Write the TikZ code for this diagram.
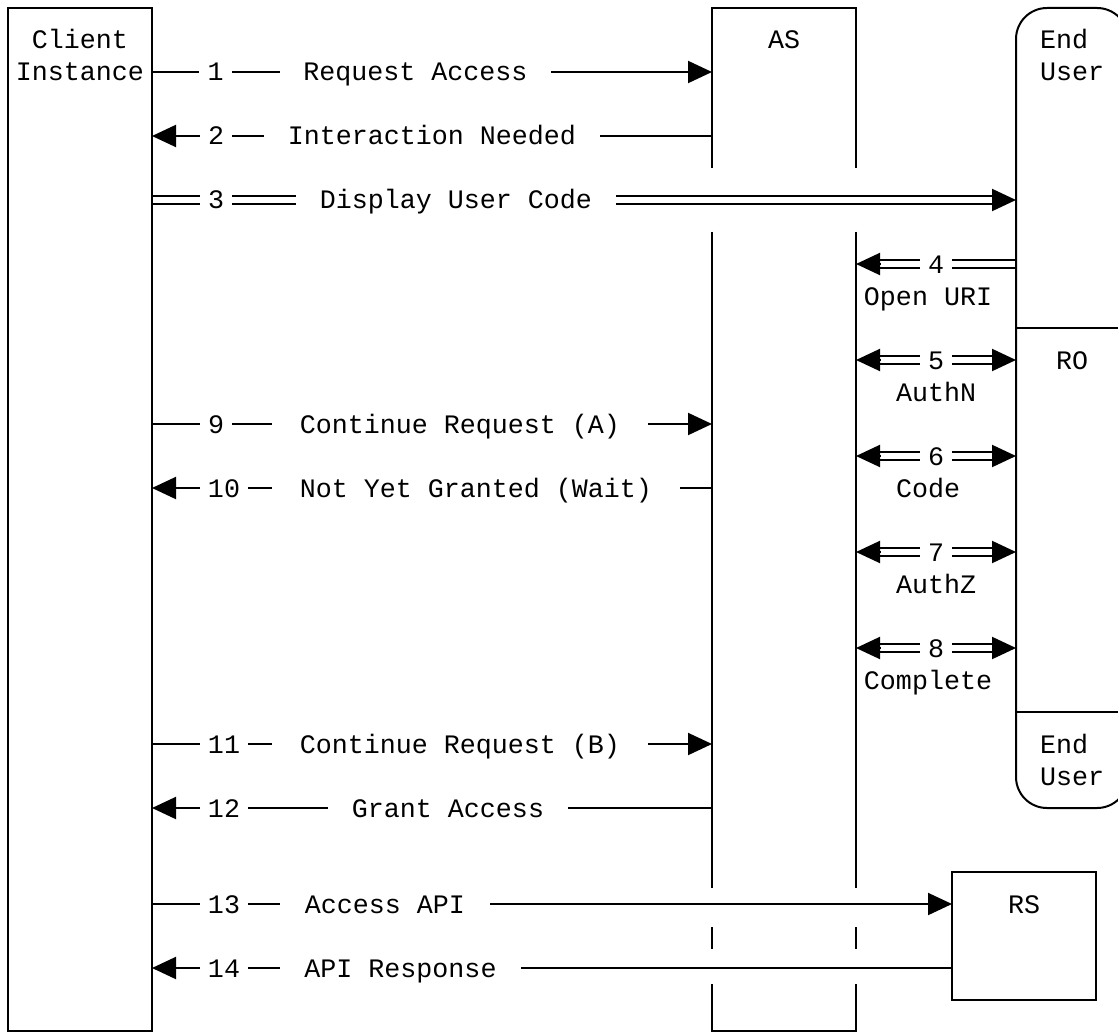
\documentclass[tikz,border=0pt]{standalone}
\usepackage{fontspec}
\newfontfamily\dgmfam{Liberation Mono}
\newcommand\dgmfont{\dgmfam\fontsize{26.67pt}{32pt}\selectfont}
\usetikzlibrary{arrows.meta,calc}
\begin{document}
\begin{tikzpicture}[x=1pt,y=-1pt,line width=2pt,
  txt/.style={inner sep=0pt, outer sep=0pt, text height=18pt, text depth=0pt, font=\dgmfont},
  mask/.style={txt, fill=white, minimum width=#1},
  box/.style={inner sep=0pt, outer sep=0pt, anchor=north west},
  arr/.style={-{Triangle[length=24pt,width=22pt]}},
  dbl/.style={double=white, double distance=6pt, line width=2pt},
  ]
\useasboundingbox (0,0) rectangle (1118,1032);
\clip (0,0) rectangle (1118,1032);

% participants
\node[box, draw, minimum width=144pt, minimum height=1023pt] (client) at (8,8) {};
\node[box, minimum width=144pt, minimum height=1023pt] (as) at (712,8) {};
\node[box, draw, rounded corners=31pt, minimum width=112pt, minimum height=800pt] (user) at (1016,8) {};
\node[box, draw, minimum width=144pt, minimum height=128pt] (rs) at (952,872) {};

% rows
\coordinate (y1) at (0,72);
\coordinate (y2) at (0,136);
\coordinate (y3) at (0,200);
\coordinate (y4) at (0,264);
\coordinate (y5) at (0,360);
\coordinate (y6) at (0,456);
\coordinate (y7) at (0,552);
\coordinate (y8) at (0,648);
\coordinate (y9) at (0,424);
\coordinate (y10) at (0,488);
\coordinate (y11) at (0,744);
\coordinate (y12) at (0,808);
\coordinate (y13) at (0,904);
\coordinate (y14) at (0,968);

% AS outline (broken lifeline)
\draw (712,168) -- (712,8) -- (856,8) -- (856,168);
\draw (712,232) -- (712,888);
\draw (856,232) -- (856,888);
\draw (712,927) -- (712,949);
\draw (856,927) -- (856,949);
\draw (712,984) -- (712,1031) -- (856,1031) -- (856,984);

% End user / RO separators
\draw (user.west |- 0,328) -- (user.east |- 0,328);
\draw (user.west |- 0,712) -- (user.east |- 0,712);

% connectors
\draw[arr] (client.east |- y1) -- (as.west |- y1);
\draw[arr] (as.west |- y2) -- (client.east |- y2);
\draw[dbl, shorten <=1pt, shorten >=24pt] (client.east |- y3) -- (user.west |- y3);
\draw[arr] ($(user.west |- y3)+(-24,0)$) -- (user.west |- y3);
\draw[dbl, shorten <=1pt, shorten >=24pt] (user.west |- y4) -- (as.east |- y4);
\draw[arr] ($(as.east |- y4)+(24,0)$) -- (as.east |- y4);
\foreach \r in {5,6,7,8}{
  \draw[dbl, shorten <=24pt, shorten >=24pt] (as.east |- y\r) -- (user.west |- y\r);
  \draw[arr] ($(as.east |- y\r)+(24,0)$) -- (as.east |- y\r);
  \draw[arr] ($(user.west |- y\r)+(-24,0)$) -- (user.west |- y\r);
}
\draw[arr] (client.east |- y9) -- (as.west |- y9);
\draw[arr] (as.west |- y10) -- (client.east |- y10);
\draw[arr] (client.east |- y11) -- (as.west |- y11);
\draw[arr] (as.west |- y12) -- (client.east |- y12);
\draw[arr] (client.east |- y13) -- (rs.west |- y13);
\draw[arr] (rs.west |- y14) -- (client.east |- y14);

% connector labels
\node[mask=33pt] (n1) at (215.5,72) {1};
\node[mask=271pt] (t1) at (415.5,72) {Request Access};
\node[mask=32pt] (n2) at (216,136) {2};
\node[mask=336pt] (t2) at (432,136) {Interaction Needed};
\node[mask=32pt] (n3) at (216,200) {3};
\node[mask=320pt] (t3) at (456,200) {Display User Code};
\node[mask=32pt] (n4) at (936,264) {4};
\node[txt] (t4) at (928,296) {Open URI};
\node[mask=32pt] (n5) at (936,360) {5};
\node[txt] (t5) at (936,392) {AuthN};
\node[mask=32pt] (n6) at (936,456) {6};
\node[txt] (t6) at (928,488) {Code};
\node[mask=32pt] (n7) at (936,552) {7};
\node[txt] (t7) at (936,584) {AuthZ};
\node[mask=32pt] (n8) at (936,648) {8};
\node[txt] (t8) at (928,680) {Complete};
\node[mask=32pt] (n9) at (216,424) {9};
\node[mask=376pt] (t9) at (460,424) {Continue Request (A)};
\node[mask=48pt] (n10) at (224,488) {10};
\node[mask=408pt] (t10) at (476,488) {Not Yet Granted (Wait)};
\node[mask=48pt] (n11) at (224,744) {11};
\node[mask=376pt] (t11) at (460,744) {Continue Request (B)};
\node[mask=48pt] (n12) at (224,808) {12};
\node[mask=240pt] (t12) at (448,808) {Grant Access};
\node[mask=48pt] (n13) at (224,904) {13};
\node[mask=210pt] (t13) at (385,904) {Access API};
\node[mask=48pt] (n14) at (224,968) {14};
\node[mask=241pt] (t14) at (400.5,968) {API Response};

% participant labels
\node[txt] (cl1) at (80,40) {Client};
\node[txt] (cl2) at (80,72) {Instance};
\node[txt] (asl) at (784,40) {AS};
\node[txt, anchor=west] (eu1) at (1040,40) {End};
\node[txt, anchor=west] (eu2) at (1040,72) {User};
\node[txt] (rol) at (1072,360) {RO};
\node[txt, anchor=west] (eu3) at (1040,744) {End};
\node[txt, anchor=west] (eu4) at (1040,776) {User};
\node[txt] (rsl) at (1024,904) {RS};
\end{tikzpicture}
\end{document}
